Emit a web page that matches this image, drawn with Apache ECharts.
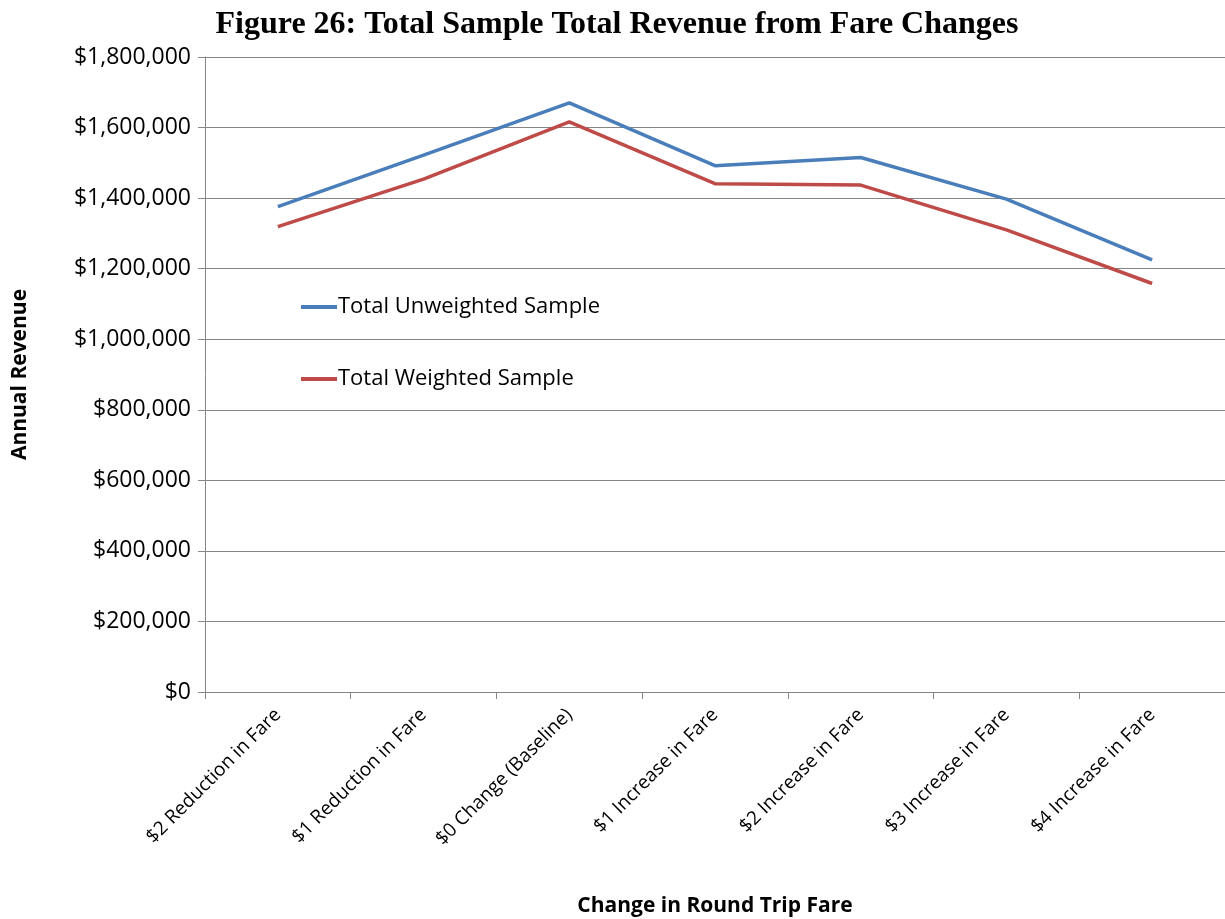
<!DOCTYPE html>
<html>
<head>
<meta charset="utf-8">
<script src="https://cdn.jsdelivr.net/npm/echarts@6/dist/echarts.min.js"></script>
<style>html,body{margin:0;padding:0;background:#fff}#c{width:1225px;height:919px}</style>
</head>
<body>
<div id="c"></div>
<script>
var categories = ["$2 Reduction in Fare", "$1 Reduction in Fare", "$0 Change (Baseline)", "$1 Increase in Fare", "$2 Increase in Fare", "$3 Increase in Fare", "$4 Increase in Fare"];
var unweighted = [1376000, 1522000, 1670000, 1492000, 1515000, 1397000, 1225000];
var weighted = [1319000, 1454000, 1616000, 1441000, 1437000, 1310000, 1158000];
var seriesNames = ["Total Unweighted Sample", "Total Weighted Sample"];
var yTicks = { min: 0, max: 1800000, interval: 200000 };

var chart = echarts.init(document.getElementById('c'));
var labelFont = '"Open Sans", sans-serif';
chart.setOption({
  animation: false,
  backgroundColor: '#fff',
  title: {
    text: 'Figure 26: Total Sample Total Revenue from Fare Changes',
    left: 612, top: 4, textAlign: 'center',
    textStyle: { fontFamily: '"Liberation Serif", serif', fontWeight: 'bold', fontSize: 32, color: '#000' }
  },
  legend: {
    orient: 'vertical', left: 296, top: 290,
    itemWidth: 36, itemHeight: 4, itemGap: 48, icon: 'rect',
    textStyle: { fontFamily: labelFont, fontSize: 22, color: '#000', lineHeight: 24, padding: [0,0,0,-4] },
    data: seriesNames
  },
  grid: { left: 205, right: 0, top: 57, bottom: 227, containLabel: false, outerBoundsMode: 'none' },
  xAxis: {
    type: 'category', data: categories, boundaryGap: true,
    axisLine: { lineStyle: { color: '#868686', width: 1 } },
    axisTick: { show: true, length: 7, lineStyle: { color: '#868686' } },
    axisLabel: { rotate: 45, fontFamily: labelFont, fontSize: 19, color: '#000', margin: 20, interval: 0 },
    name: 'Change in Round Trip Fare', nameLocation: 'middle', nameGap: 204,
    nameTextStyle: { fontFamily: labelFont, fontWeight: 'bold', fontSize: 21, color: '#000' }
  },
  yAxis: {
    type: 'value', min: yTicks.min, max: yTicks.max, interval: yTicks.interval,
    axisLine: { show: true, lineStyle: { color: '#868686', width: 1 } },
    axisTick: { show: true, length: 7, lineStyle: { color: '#868686' } },
    splitLine: { lineStyle: { color: '#868686', width: 1 } },
    axisLabel: {
      fontFamily: labelFont, fontSize: 23, color: '#000', margin: 14,
      formatter: function (v) { return '$' + v.toLocaleString('en-US'); }
    },
    name: 'Annual Revenue', nameLocation: 'middle', nameGap: 174,
    nameTextStyle: { fontFamily: labelFont, fontWeight: 'bold', fontSize: 21, color: '#000' }
  },
  series: [
    { name: seriesNames[0], type: 'line', data: unweighted, symbol: 'none',
      lineStyle: { color: '#4a7ebb', width: 3.5 }, itemStyle: { color: '#4a7ebb' } },
    { name: seriesNames[1], type: 'line', data: weighted, symbol: 'none',
      lineStyle: { color: '#be4b48', width: 3.5 }, itemStyle: { color: '#be4b48' } }
  ]
});
</script>
</body>
</html>
